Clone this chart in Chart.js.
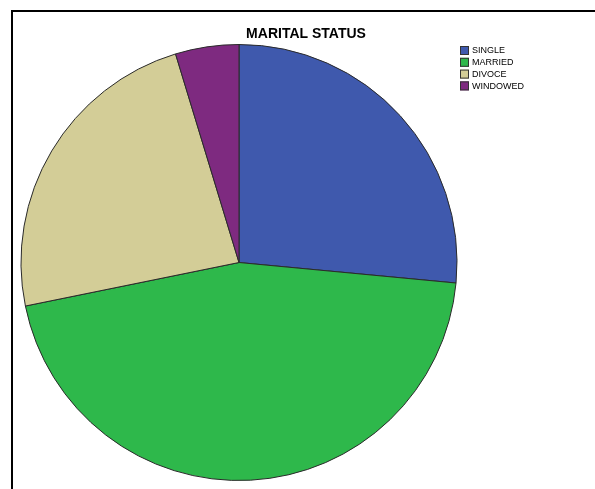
<!DOCTYPE html>
<html>
<head>
<meta charset="utf-8">
<script src="https://cdn.jsdelivr.net/npm/chart.js@4.4.1/dist/chart.umd.min.js"></script>
<style>
  html, body { margin: 0; padding: 0; background: #fff; }
  #wrap { position: relative; width: 595px; height: 489px; }
</style>
</head>
<body>
<div id="wrap"><canvas id="pieChart" width="595" height="489"></canvas></div>
<script>
// marital status shares (percent)
var labels = ["SINGLE", "MARRIED", "DIVOCE", "WINDOWED"];
var shares = [26.5, 45.3, 23.5, 4.7];
var colors = ["#3F59AD", "#2EB84B", "#D3CD97", "#7E2A80"];
var titleText = "MARITAL STATUS";

// frame, title and the small legend box in the top right
var decor = {
  id: 'decor',
  beforeDraw: function(chart) {
    var c = chart.ctx;
    c.save();
    c.fillStyle = '#000';
    c.fillRect(11, 10, 584, 2);
    c.fillRect(11, 10, 2, 479);
    c.restore();
  },
  afterDraw: function(chart) {
    var c = chart.ctx;
    c.save();
    c.fillStyle = '#000';
    c.font = 'bold 14px "Liberation Sans", Arial, sans-serif';
    c.textAlign = 'center';
    c.textBaseline = 'middle';
    c.fillText(titleText, 306, 34);

    c.font = '9px "Liberation Sans", Arial, sans-serif';
    c.textAlign = 'left';
    var ds = chart.data.datasets[0];
    chart.data.labels.forEach(function(lab, i) {
      var y = 46 + i * 11.8;
      c.fillStyle = ds.backgroundColor[i];
      c.fillRect(460, y, 9, 9);
      c.strokeStyle = '#333';
      c.lineWidth = 1;
      c.strokeRect(460.5, y + 0.5, 8, 8);
      c.fillStyle = '#000';
      c.fillText(lab, 472, y + 5);
    });
    c.restore();
  }
};

new Chart(document.getElementById('pieChart'), {
  type: 'pie',
  data: {
    labels: labels,
    datasets: [{
      data: shares,
      backgroundColor: colors,
      borderColor: '#2a2a2a',
      borderWidth: 1
    }]
  },
  options: {
    responsive: false,
    animation: false,
    layout: {
      padding: { left: 20.5, right: 137.5, top: 44, bottom: 8 }
    },
    plugins: {
      legend: { display: false },
      title: { display: false },
      tooltip: { enabled: false }
    }
  },
  plugins: [decor]
});
</script>
</body>
</html>
